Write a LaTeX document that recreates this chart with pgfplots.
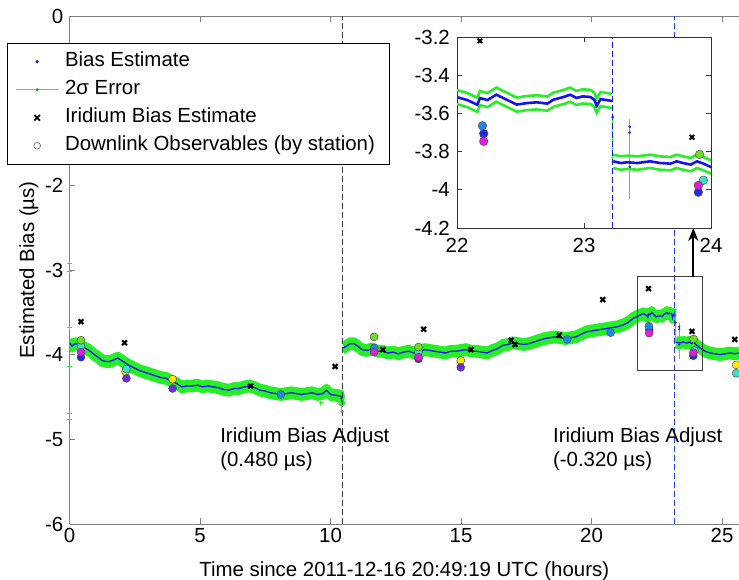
\documentclass[border=0pt]{standalone}
\usepackage{pgfplots}
\pgfplotsset{compat=1.18}
\usepackage{pgfplotstable}
\usepackage{fontspec}
\setmainfont{Liberation Sans}
\usetikzlibrary{arrows.meta}

\definecolor{sig}{RGB}{40,238,40}
\definecolor{bl}{RGB}{20,20,235}
\definecolor{vl}{RGB}{40,60,255}
\definecolor{dl}{RGB}{60,60,90}
\definecolor{cgreen}{RGB}{110,220,40}
\definecolor{cturq}{RGB}{50,228,200}
\definecolor{clblue}{RGB}{30,136,230}
\definecolor{cblue}{RGB}{40,40,225}
\definecolor{cpurp}{RGB}{110,40,230}
\definecolor{cmag}{RGB}{222,30,222}
\definecolor{cyel}{RGB}{255,235,0}

\pgfplotstableread{
t v up lo
0.00 -3.86 -3.823 -3.897
0.10 -3.90 -3.863 -3.937
0.20 -3.87 -3.833 -3.907
0.35 -3.88 -3.843 -3.917
0.50 -3.91 -3.873 -3.947
0.65 -3.93 -3.893 -3.967
0.80 -3.96 -3.923 -3.997
0.95 -4.00 -3.963 -4.037
1.10 -4.03 -3.993 -4.067
1.25 -4.07 -4.033 -4.107
1.40 -4.08 -4.043 -4.117
1.55 -4.08 -4.043 -4.117
1.70 -4.06 -4.023 -4.097
1.85 -4.04 -4.003 -4.077
2.00 -4.07 -4.033 -4.107
2.15 -4.10 -4.063 -4.137
2.30 -4.13 -4.093 -4.167
2.50 -4.16 -4.123 -4.197
2.70 -4.19 -4.153 -4.227
2.90 -4.21 -4.173 -4.247
3.10 -4.23 -4.193 -4.267
3.30 -4.25 -4.213 -4.287
3.50 -4.27 -4.233 -4.307
3.70 -4.28 -4.243 -4.317
3.90 -4.31 -4.273 -4.347
4.10 -4.34 -4.303 -4.377
4.30 -4.38 -4.343 -4.417
4.50 -4.37 -4.333 -4.407
4.70 -4.37 -4.333 -4.407
4.90 -4.36 -4.323 -4.397
5.10 -4.38 -4.343 -4.417
5.30 -4.37 -4.333 -4.407
5.50 -4.38 -4.343 -4.417
5.70 -4.39 -4.353 -4.427
5.90 -4.41 -4.373 -4.447
6.10 -4.42 -4.383 -4.457
6.30 -4.40 -4.363 -4.437
6.50 -4.40 -4.363 -4.437
6.70 -4.38 -4.343 -4.417
6.90 -4.37 -4.333 -4.407
7.10 -4.39 -4.353 -4.427
7.30 -4.42 -4.383 -4.457
7.50 -4.43 -4.393 -4.467
7.70 -4.45 -4.413 -4.487
7.90 -4.46 -4.423 -4.497
8.10 -4.47 -4.433 -4.507
8.30 -4.46 -4.423 -4.497
8.50 -4.45 -4.413 -4.487
8.70 -4.46 -4.423 -4.497
8.90 -4.47 -4.433 -4.507
9.10 -4.46 -4.423 -4.497
9.30 -4.45 -4.413 -4.487
9.50 -4.47 -4.433 -4.507
9.70 -4.46 -4.423 -4.497
9.85 -4.42 -4.383 -4.457
10.00 -4.47 -4.433 -4.507
10.20 -4.48 -4.443 -4.517
10.40 -4.49 -4.453 -4.527
10.44 -4.56 -4.523 -4.597
nan nan nan nan
10.47 -3.92 -3.883 -3.957
10.60 -3.90 -3.863 -3.937
10.75 -3.87 -3.833 -3.907
10.90 -3.87 -3.833 -3.907
11.05 -3.90 -3.863 -3.937
11.20 -3.94 -3.903 -3.977
11.40 -3.95 -3.913 -3.987
11.60 -3.93 -3.893 -3.967
11.80 -3.96 -3.923 -3.997
12.00 -3.96 -3.923 -3.997
12.20 -3.98 -3.943 -4.017
12.40 -3.97 -3.933 -4.007
12.60 -3.99 -3.953 -4.027
12.80 -3.97 -3.933 -4.007
13.00 -3.96 -3.923 -3.997
13.20 -3.98 -3.943 -4.017
13.40 -3.97 -3.933 -4.007
13.60 -3.94 -3.903 -3.977
13.80 -3.95 -3.913 -3.987
14.00 -3.96 -3.923 -3.997
14.20 -3.97 -3.933 -4.007
14.40 -3.98 -3.943 -4.017
14.60 -3.96 -3.923 -3.997
14.80 -3.96 -3.923 -3.997
15.00 -3.95 -3.913 -3.987
15.20 -3.94 -3.903 -3.977
15.40 -3.96 -3.923 -3.997
15.60 -3.96 -3.923 -3.997
15.80 -3.97 -3.933 -4.007
16.00 -3.98 -3.943 -4.017
16.20 -3.95 -3.913 -3.987
16.40 -3.93 -3.893 -3.967
16.60 -3.89 -3.853 -3.927
16.80 -3.88 -3.843 -3.917
17.00 -3.86 -3.823 -3.897
17.20 -3.87 -3.833 -3.907
17.40 -3.88 -3.843 -3.917
17.60 -3.87 -3.833 -3.907
17.80 -3.85 -3.813 -3.887
18.00 -3.83 -3.793 -3.867
18.20 -3.81 -3.773 -3.847
18.40 -3.80 -3.763 -3.837
18.60 -3.79 -3.753 -3.827
18.80 -3.80 -3.763 -3.837
19.00 -3.81 -3.773 -3.847
19.20 -3.80 -3.763 -3.837
19.40 -3.79 -3.753 -3.827
19.60 -3.76 -3.723 -3.797
19.80 -3.73 -3.693 -3.767
20.00 -3.72 -3.683 -3.757
20.20 -3.71 -3.673 -3.747
20.40 -3.70 -3.663 -3.737
20.60 -3.69 -3.653 -3.727
20.80 -3.68 -3.643 -3.717
21.00 -3.67 -3.633 -3.707
21.20 -3.65 -3.613 -3.687
21.40 -3.62 -3.583 -3.657
21.60 -3.57 -3.533 -3.607
21.80 -3.54 -3.503 -3.577
22.00 -3.515 -3.478 -3.552
22.08 -3.530 -3.493 -3.567
22.16 -3.555 -3.518 -3.592
22.18 -3.520 -3.483 -3.557
22.24 -3.530 -3.493 -3.567
22.31 -3.502 -3.465 -3.539
22.39 -3.528 -3.491 -3.565
22.47 -3.554 -3.517 -3.591
22.55 -3.546 -3.509 -3.583
22.63 -3.542 -3.505 -3.579
22.71 -3.549 -3.512 -3.586
22.76 -3.528 -3.491 -3.565
22.84 -3.514 -3.477 -3.551
22.89 -3.502 -3.465 -3.539
22.94 -3.519 -3.482 -3.556
22.99 -3.511 -3.474 -3.548
23.05 -3.514 -3.477 -3.551
23.08 -3.528 -3.491 -3.565
23.10 -3.560 -3.523 -3.597
23.13 -3.525 -3.488 -3.562
23.22 -3.535 -3.498 -3.572
nan nan nan nan
23.23 -3.851 -3.816 -3.886
23.29 -3.860 -3.825 -3.895
23.34 -3.856 -3.821 -3.891
23.42 -3.860 -3.825 -3.895
23.52 -3.851 -3.816 -3.886
23.60 -3.860 -3.825 -3.895
23.68 -3.863 -3.828 -3.898
23.73 -3.851 -3.816 -3.886
23.78 -3.860 -3.825 -3.895
23.84 -3.868 -3.833 -3.903
23.89 -3.851 -3.816 -3.886
23.94 -3.863 -3.828 -3.898
24.00 -3.881 -3.846 -3.916
24.16 -3.92 -3.883 -3.957
24.35 -3.96 -3.923 -3.997
24.54 -3.98 -3.943 -4.017
24.73 -3.99 -3.953 -4.027
24.92 -4.00 -3.963 -4.037
25.10 -3.99 -3.953 -4.027
25.31 -3.98 -3.943 -4.017
25.50 -3.99 -3.953 -4.027
25.65 -3.98 -3.943 -4.017
}\bias

\pgfplotstableread{
t v
0.00 -2.92
0.00 -3.02
0.00 -3.68
0.00 -4.14
0.00 -4.69
0.00 -4.76
9.62 -4.57
10.43 -4.60
10.43 -4.67
}\sigout

\pgfplotstableread{
t v
23.36 -3.63
23.36 -4.05
nan nan
23.225 -3.60
23.225 -3.85
nan nan
10.43 -4.50
10.43 -4.67
}\sigspike

\pgfplotstableread{
t v
23.36 -3.67
23.36 -3.70
23.36 -3.88
23.225 -3.62
}\blspike

\pgfplotstableread{
t v
0.44 -3.61
2.11 -3.86
6.94 -4.37
10.18 -4.14
12.00 -3.94
13.57 -3.70
15.38 -3.94
16.92 -3.83
17.07 -3.88
18.76 -3.77
20.43 -3.35
22.18 -3.22
23.85 -3.725
25.49 -3.82
}\irid

\pgfplotstableread{
t v
2.15 -4.20
3.95 -4.29
14.99 -4.07
25.54 -4.12
}\syel
\pgfplotstableread{
t v
0.44 -4.03
13.37 -4.05
22.21 -3.706
23.90 -4.013
}\sblue
\pgfplotstableread{
t v
2.18 -4.28
3.95 -4.40
14.99 -4.15
}\spurp
\pgfplotstableread{
t v
8.10 -4.47
11.67 -3.92
19.07 -3.82
20.73 -3.74
22.20 -3.665
}\slblue
\pgfplotstableread{
t v
0.44 -3.90
2.18 -4.17
13.37 -3.97
23.94 -3.95
25.54 -4.22
}\sturq
\pgfplotstableread{
t v
0.44 -3.83
11.67 -3.79
13.37 -3.91
23.91 -3.815
}\sgreen
\pgfplotstableread{
t v
0.44 -3.97
11.67 -3.97
13.37 -4.03
22.21 -3.746
23.90 -3.977
}\smag

\pgfplotsset{
  station/.style={only marks, mark=*, mark size=#1, mark options={draw=black!70, line width=0.45bp}},
  station/.default=4bp,
}

\begin{document}
\begin{tikzpicture}
\begin{axis}[
  name=main, at={(0,0)}, anchor=south west,
  scale only axis, width=669.5bp, height=508bp,
  xmin=0, xmax=25.65, ymin=-6, ymax=0,
  axis x line*=box, axis y line*=left,
  axis line style={draw=black!50, line width=0.7bp},
  tick align=inside, major tick length=6bp,
  tick style={draw=black!50, line width=0.7bp},
  xtick={0,5,10,15,20,25}, xticklabels={0,5,10,15,20,25},
  ytick={-6,-5,-4,-3,-2,-1,0}, yticklabels={-6,-5,-4,-3,-2,-1,0},
  unbounded coords=jump,
  font=\fontsize{20.5}{24}\selectfont,
  ticklabel style={font=\fontsize{20.5}{24}\selectfont},
  xticklabel style={inner sep=0pt, yshift=-4bp},
  yticklabel style={inner sep=0pt, xshift=-6bp},
  xlabel={Time since 2011-12-16 20:49:19 UTC (hours)},
  ylabel={Estimated Bias (µs)},
  xlabel style={at={(axis description cs:0.5,-0.1043)}, anchor=base, inner sep=0pt},
  ylabel style={at={(axis description cs:-0.053,0.5)}, anchor=base, inner sep=0pt},
  legend style={at={(axis description cs:-0.0934,0.9469)}, anchor=north west,
    draw=black, fill=white, line width=0.6bp,
    font=\fontsize{20.5}{24}\selectfont,
    inner xsep=8bp, inner ysep=4.5bp, row sep=0pt,
    nodes={inner xsep=6bp, inner ysep=4.5bp, text height=14.5bp, text depth=4.5bp}},
  legend cell align=left,
]
\addlegendimage{legend image code/.code={\path[draw=none,fill=none] (0,-1bp) rectangle (43bp,1bp); \fill[bl] (21.5bp,0) circle (1.3bp);}}
\addlegendentry{Bias Estimate}
\addlegendimage{legend image code/.code={\path[draw=none,fill=none] (0,-1bp) rectangle (43bp,1bp); \draw[sig, line width=0.8bp] (0,0) -- (43bp,0); \fill[sig!70!black] (21.5bp,0) circle (1.2bp);}}
\addlegendentry{2σ Error}
\addlegendimage{legend image code/.code={\path[draw=none,fill=none] (0,-1bp) rectangle (43bp,1bp); \draw[black, line width=1.7bp] (18.7bp,-2.8bp) -- (24.3bp,2.8bp) (18.7bp,2.8bp) -- (24.3bp,-2.8bp);}}
\addlegendentry{Iridium Bias Estimate}
\addlegendimage{legend image code/.code={\path[draw=none,fill=none] (0,-1bp) rectangle (43bp,1bp); \draw[black!70, fill=white, line width=0.5bp] (21.5bp,0) circle (3.4bp);}}
\addlegendentry{Downlink Observables (by station)}

\addplot[sig, line width=6.5bp, line join=round, forget plot] table[x=t, y=up] {\bias};
\addplot[sig, line width=6.5bp, line join=round, forget plot] table[x=t, y=lo] {\bias};
\addplot[sig, line width=1.2bp, forget plot] table[x=t, y=v] {\sigspike};
\addplot[sig, only marks, mark=+, mark size=2bp, line width=1bp, forget plot] table[x=t, y=v] {\sigout};
\addplot[bl, line width=1.3bp, forget plot] table[x=t, y=v] {\bias};
\addplot[bl, only marks, mark=*, mark size=0.8bp, forget plot] table[x=t, y=v] {\blspike};

\addplot[dl, dash pattern=on 6bp off 3bp, line width=0.8bp, forget plot] coordinates {(10.45,-6) (10.45,0)};
\addplot[vl, dash pattern=on 6bp off 3bp, line width=0.9bp, forget plot] coordinates {(23.18,-6) (23.18,0)};

\addplot[station, fill=cyel, forget plot] table[x=t, y=v] {\syel};
\addplot[station, fill=cblue, forget plot] table[x=t, y=v] {\sblue};
\addplot[station, fill=cpurp, forget plot] table[x=t, y=v] {\spurp};
\addplot[station, fill=clblue, forget plot] table[x=t, y=v] {\slblue};
\addplot[station, fill=cturq, forget plot] table[x=t, y=v] {\sturq};
\addplot[station, fill=cgreen, forget plot] table[x=t, y=v] {\sgreen};
\addplot[station, fill=cmag, forget plot] table[x=t, y=v] {\smag};
\addplot[black, only marks, mark=x, mark size=3.4bp, line width=2.1bp, forget plot] table[x=t, y=v] {\irid};

\draw[black!75, line width=0.8bp] (axis cs:21.74,-3.08) rectangle (axis cs:24.23,-4.18);
\draw[-{Stealth[length=13bp,width=10bp]}, line width=2.2bp] (axis cs:23.9,-3.08) -- (axis cs:23.9,-2.503);

\node[anchor=base west, inner sep=0pt] at (axis cs:5.77,-5.04) {Iridium Bias Adjust};
\node[anchor=base west, inner sep=0pt] at (axis cs:5.77,-5.32) {(0.480 µs)};
\node[anchor=base west, inner sep=0pt] at (axis cs:18.52,-5.04) {Iridium Bias Adjust};
\node[anchor=base west, inner sep=0pt] at (axis cs:18.52,-5.32) {(-0.320 µs)};
\end{axis}

\begin{axis}[
  at={(387.5bp,296bp)}, anchor=south west,
  scale only axis, width=254bp, height=191bp,
  xmin=22, xmax=24, ymin=-4.2, ymax=-3.2,
  axis background/.style={fill=white},
  axis line style={draw=black!80, line width=0.7bp},
  tick align=inside, major tick length=5bp,
  tick style={draw=black!80, line width=0.7bp},
  xtick={22,23,24}, xticklabels={22,23,24},
  ytick={-4.2,-4,-3.8,-3.6,-3.4,-3.2}, yticklabels={-4.2,-4,-3.8,-3.6,-3.4,-3.2},
  unbounded coords=jump,
  ticklabel style={font=\fontsize{20.5}{24}\selectfont},
  xticklabel style={inner sep=0pt, yshift=-10bp},
  yticklabel style={inner sep=0pt, xshift=-7bp},
]
\addplot[sig, line width=2.6bp] table[x=t, y=up] {\bias};
\addplot[sig, line width=2.6bp] table[x=t, y=lo] {\bias};
\addplot[sig, line width=1.2bp] table[x=t, y=v] {\sigspike};
\addplot[bl, line width=2.6bp] table[x=t, y=v] {\bias};
\addplot[bl, only marks, mark=*, mark size=1.1bp] table[x=t, y=v] {\blspike};
\addplot[bl, dash pattern=on 6bp off 3bp, line width=0.7bp] coordinates {(23.22,-4.2) (23.22,-3.2)};
\addplot[station=4.3bp, fill=cyel] table[x=t, y=v] {\syel};
\addplot[station=4.3bp, fill=cblue] table[x=t, y=v] {\sblue};
\addplot[station=4.3bp, fill=cpurp] table[x=t, y=v] {\spurp};
\addplot[station=4.3bp, fill=clblue] table[x=t, y=v] {\slblue};
\addplot[station=4.3bp, fill=cturq] table[x=t, y=v] {\sturq};
\addplot[station=4.3bp, fill=cgreen] table[x=t, y=v] {\sgreen};
\addplot[station=4.3bp, fill=cmag] table[x=t, y=v] {\smag};
\addplot[black, only marks, mark=x, mark size=3.2bp, line width=1.9bp] table[x=t, y=v] {\irid};
\end{axis}
\pgfresetboundingbox
\path[use as bounding box] (-69.5bp,-56bp) rectangle (669.5bp,524bp);
\end{tikzpicture}
\end{document}
